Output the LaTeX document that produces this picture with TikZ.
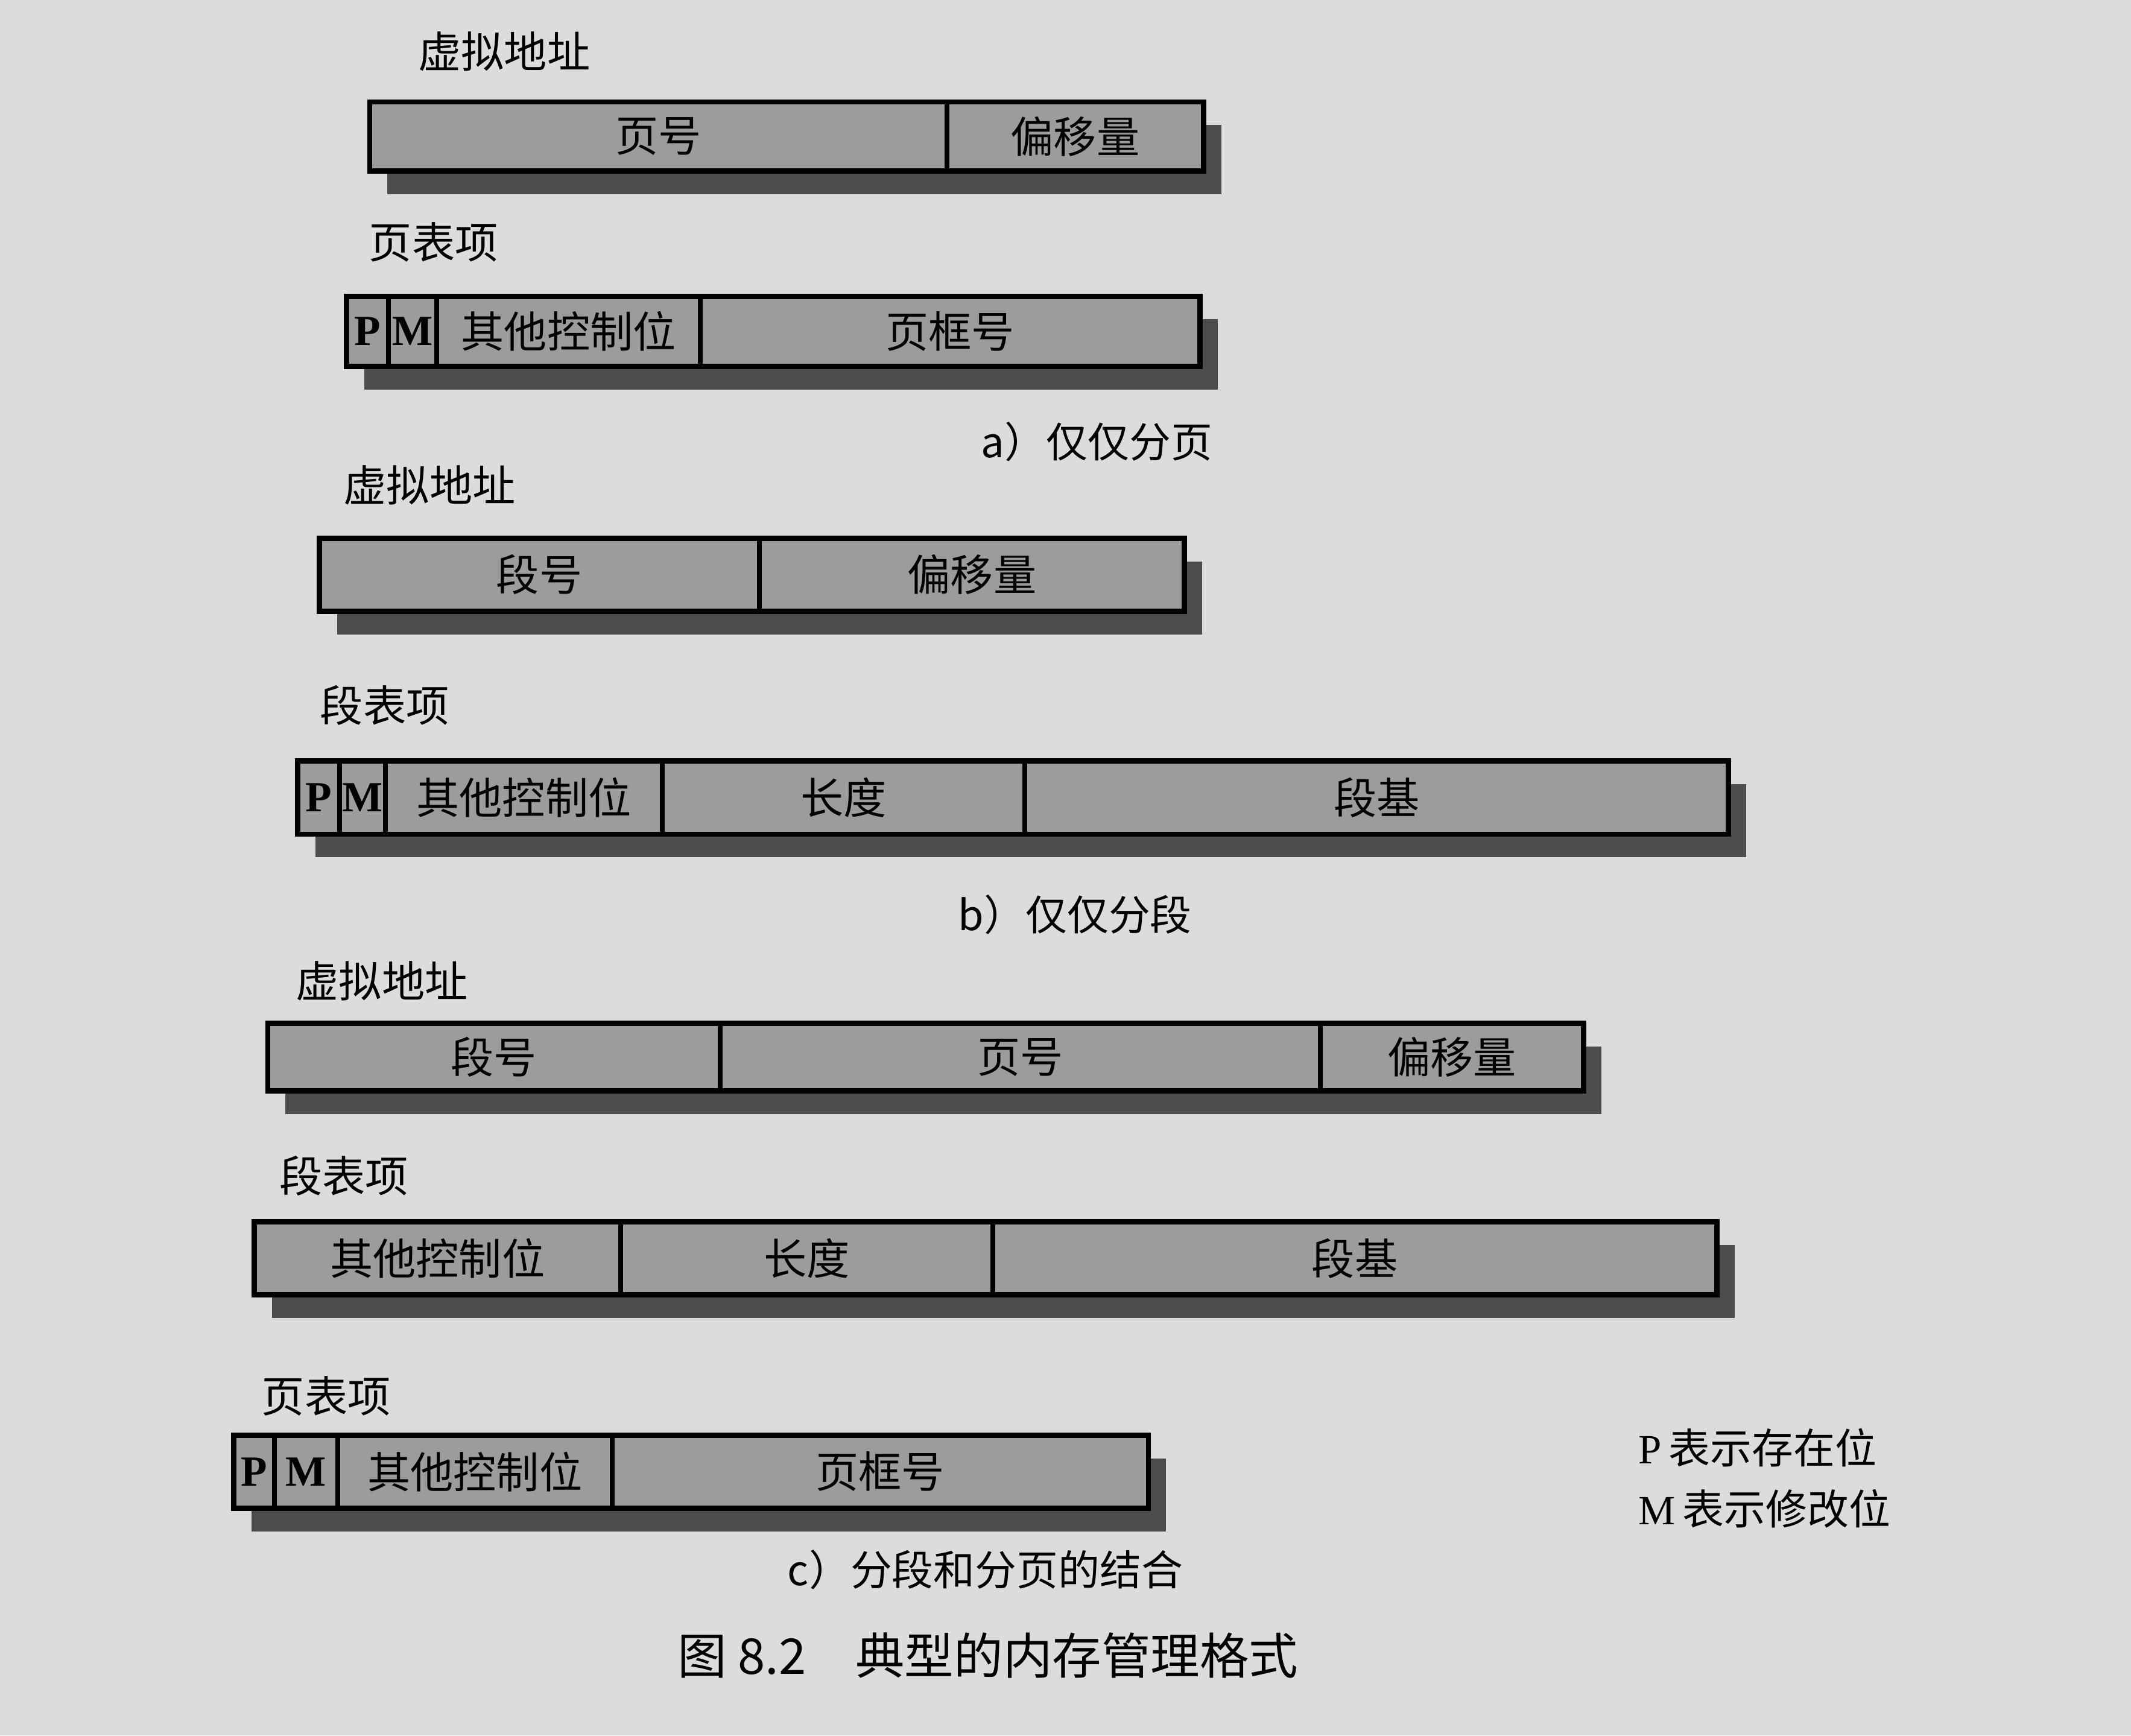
\documentclass[tikz,border=0pt]{standalone}
\usepackage{fontspec}
\setmainfont{Liberation Serif}
\newfontfamily\cjk{Noto Sans CJK SC}
\usepackage{tikz}
\usetikzlibrary{positioning, calc}
\definecolor{PaperGray}{HTML}{DCDCDC}
\definecolor{FieldGray}{HTML}{9C9C9C}
\definecolor{ShadowGray}{HTML}{4D4D4D}
\pgfdeclarelayer{back}
\pgfsetlayers{back,main}
\tikzset{
  % Field styles
  fieldbox/.style={rectangle, draw=black, line width=0.5pt, fill=FieldGray, inner sep=0pt, minimum height=0.5cm, font=\cjk\fontsize{9}{11}\selectfont, align=center},
  bitbox/.style={fieldbox, font=\rmfamily\bfseries\fontsize{9}{11}\selectfont},
  barframe/.style={draw=black, line width=1.1pt},
  % Text styles
  headtext/.style={font=\cjk\fontsize{9}{11}\selectfont, inner sep=0pt},
  captiontext/.style={font=\cjk\fontsize{8.7}{11}\selectfont, inner sep=0pt},
  legendtext/.style={font=\cjk\fontsize{8.7}{11}\selectfont, inner sep=0pt, anchor=west},
  figtext/.style={font=\cjk\fontsize{10.3}{13}\selectfont, inner sep=0pt}
}

\begin{document}
\begin{tikzpicture}
  \useasboundingbox (0,0) rectangle (15.68,-12.77);
  \begin{pgfonlayer}{back}
    \fill[PaperGray] (0,0) rectangle (15.68,-12.77);
  \end{pgfonlayer}

  % a) paging only
  \node[headtext] (a1lbl) at (3.71,-0.38) {虚拟地址};
  \node[fieldbox, minimum width=4.23cm, minimum height=0.49cm, anchor=north west] (a1n) at (2.72,-0.75) {页号};
  \node[fieldbox, minimum width=1.87cm, minimum height=0.49cm, right=0pt of a1n] (a1o) {偏移量};

  \node[headtext] (a2lbl) at (3.19,-1.78) {页表项};
  \node[bitbox, minimum width=0.29cm, anchor=north west] (a2p) at (2.55,-2.18) {P};
  \node[bitbox, minimum width=0.34cm, right=0pt of a2p] (a2m) {M};
  \node[fieldbox, minimum width=1.92cm, right=0pt of a2m] (a2c) {其他控制位};
  \node[fieldbox, minimum width=3.66cm, right=0pt of a2c] (a2f) {页框号};

  \node[captiontext] (acap) at (8.07,-3.25) {a）仅仅分页};

  % b) segmentation only
  \node[headtext] (b1lbl) at (3.16,-3.57) {虚拟地址};
  \node[fieldbox, minimum width=3.22cm, minimum height=0.52cm, anchor=north west] (b1n) at (2.35,-3.96) {段号};
  \node[fieldbox, minimum width=3.11cm, minimum height=0.52cm, right=0pt of b1n] (b1o) {偏移量};

  \node[headtext] (b2lbl) at (2.83,-5.19) {段表项};
  \node[bitbox, minimum width=0.29cm, minimum height=0.52cm, anchor=north west] (b2p) at (2.19,-5.60) {P};
  \node[bitbox, minimum width=0.32cm, minimum height=0.52cm, right=0pt of b2p] (b2m) {M};
  \node[fieldbox, minimum width=2.02cm, minimum height=0.52cm, right=0pt of b2m] (b2c) {其他控制位};
  \node[fieldbox, minimum width=2.65cm, minimum height=0.52cm, right=0pt of b2c] (b2l) {长度};
  \node[fieldbox, minimum width=5.16cm, minimum height=0.52cm, right=0pt of b2l] (b2b) {段基};

  \node[captiontext] (bcap) at (7.91,-6.73) {b）仅仅分段};

  % c) combined segmentation and paging
  \node[headtext] (c1lbl) at (2.81,-7.22) {虚拟地址};
  \node[fieldbox, minimum width=3.31cm, minimum height=0.48cm, anchor=north west] (c1s) at (1.97,-7.53) {段号};
  \node[fieldbox, minimum width=4.40cm, minimum height=0.48cm, right=0pt of c1s] (c1n) {页号};
  \node[fieldbox, minimum width=1.92cm, minimum height=0.48cm, right=0pt of c1n] (c1o) {偏移量};

  \node[headtext] (c2lbl) at (2.53,-8.65) {段表项};
  \node[fieldbox, minimum width=2.68cm, minimum height=0.52cm, anchor=north west] (c2c) at (1.87,-8.99) {其他控制位};
  \node[fieldbox, minimum width=2.72cm, minimum height=0.52cm, right=0pt of c2c] (c2l) {长度};
  \node[fieldbox, minimum width=5.31cm, minimum height=0.52cm, right=0pt of c2l] (c2b) {段基};

  \node[headtext] (c3lbl) at (2.40,-10.27) {页表项};
  \node[bitbox, minimum width=0.28cm, minimum height=0.52cm, anchor=north west] (c3p) at (1.72,-10.56) {P};
  \node[bitbox, minimum width=0.45cm, minimum height=0.52cm, right=0pt of c3p] (c3m) {M};
  \node[fieldbox, minimum width=2.00cm, minimum height=0.52cm, right=0pt of c3m] (c3c) {其他控制位};
  \node[fieldbox, minimum width=3.93cm, minimum height=0.52cm, right=0pt of c3c] (c3f) {页框号};

  \node[legendtext] (legp) at (12.05,-10.65) {\rmfamily P\,\cjk 表示存在位};
  \node[legendtext] (legm) at (12.05,-11.10) {\rmfamily M\,\cjk 表示修改位};

  \node[captiontext] (ccap) at (7.25,-11.55) {c）分段和分页的结合};
  \node[figtext] (figcap) at (7.27,-12.18) {图 8.2\quad 典型的内存管理格式};

  % Bar outlines and shadows
  \foreach \first/\last in {a1n/a1o, a2p/a2f, b1n/b1o, b2p/b2b, c1s/c1o, c2c/c2b, c3p/c3f} {
    \begin{pgfonlayer}{back}
      \fill[ShadowGray] ($(\first.north west)+(0.13,-0.17)$) rectangle ($(\last.south east)+(0.13,-0.17)$);
    \end{pgfonlayer}
    \draw[barframe] (\first.north west) rectangle (\last.south east);
  }
\end{tikzpicture}
\end{document}
